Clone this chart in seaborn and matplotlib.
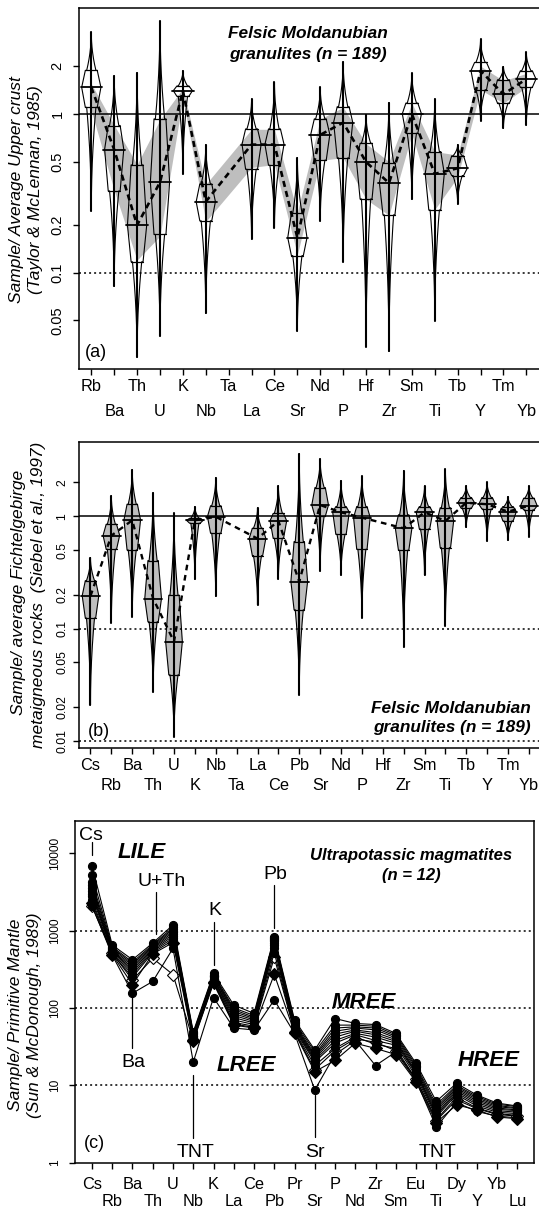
import numpy as np
import pandas as pd
import seaborn as sns
import matplotlib.pyplot as plt
from matplotlib.ticker import NullLocator

W, H, DPI = 539, 1213, 100
GREY = "#bebebe"

# (a) felsic Moldanubian granulites / average upper crust
a_ticks = ["Rb", "Ba", "Th", "U", "K", "Nb", "Ta", "La", "Ce", "Sr",
           "Nd", "P", "Hf", "Zr", "Sm", "Ti", "Tb", "Y", "Tm", "Yb"]
a_elem = ["Rb", "Ba", "Th", "U", "K", "Nb", "La", "Ce", "Sr",
          "Nd", "P", "Hf", "Zr", "Sm", "Ti", "Tb", "Y", "Tm", "Yb"]
a_max = [3.27, 1.74, 1.82, 3.84, 1.87, 0.64, 1.24, 1.58, 0.53, 1.47,
         2.13, 0.99, 1.18, 1.80, 1.24, 0.64, 2.95, 1.99, 2.44]
a_q3 = [1.88, 0.845, 0.477, 0.93, 1.50, 0.362, 0.804, 0.804, 0.237, 0.93,
        1.11, 0.653, 0.494, 1.17, 0.579, 0.544, 2.11, 1.64, 1.87]
a_med = [1.47, 0.596, 0.199, 0.371, 1.40, 0.280, 0.641, 0.641, 0.166, 0.738,
         0.882, 0.498, 0.367, 1.00, 0.419, 0.455, 1.87, 1.33, 1.66]
a_q1 = [1.10, 0.327, 0.117, 0.174, 1.29, 0.212, 0.448, 0.475, 0.128, 0.511,
        0.528, 0.291, 0.231, 0.755, 0.248, 0.409, 1.42, 1.17, 1.47]
a_min = [0.245, 0.082, 0.0293, 0.0399, 0.419, 0.0554, 0.163, 0.192, 0.0429, 0.212,
         0.117, 0.0342, 0.0319, 0.290, 0.0498, 0.271, 0.908, 0.812, 0.852]
a_band_lo = [1.05, 0.33, 0.12, 0.17, 1.25, 0.21, 0.46, 0.48, 0.13, 0.51,
             0.53, 0.29, 0.23, 0.75, 0.25, 0.40, 1.42, 1.17, 1.47]
a_band_hi = [1.55, 0.85, 0.48, 0.92, 1.45, 0.36, 0.80, 0.80, 0.24, 0.93,
             1.10, 0.65, 0.50, 1.17, 0.58, 0.55, 2.00, 1.62, 1.80]

# (b) same granulites / Fichtelgebirge metaigneous rocks
b_ticks = ["Cs", "Rb", "Ba", "Th", "U", "K", "Nb", "Ta", "La", "Ce", "Pb",
           "Sr", "Nd", "P", "Hf", "Zr", "Sm", "Ti", "Tb", "Y", "Tm", "Yb"]
b_elem = ["Cs", "Rb", "Ba", "Th", "U", "K", "Nb", "La", "Ce", "Pb",
          "Sr", "Nd", "P", "Zr", "Sm", "Ti", "Tb", "Y", "Tm", "Yb"]
b_max = [0.429, 1.52, 2.60, 1.62, 1.06, 1.22, 2.21, 1.19, 1.87, 3.61,
         3.24, 2.08, 2.27, 2.55, 1.86, 2.62, 1.87, 2.00, 1.50, 1.86]
b_q3 = [0.267, 0.849, 1.28, 0.403, 0.198, 0.96, 1.24, 0.782, 1.06, 0.595,
        1.80, 1.22, 1.22, 1.03, 1.22, 1.19, 1.47, 1.47, 1.22, 1.45]
b_med = [0.195, 0.673, 0.921, 0.185, 0.0766, 0.921, 0.99, 0.633, 0.909, 0.262,
         1.26, 1.085, 0.973, 0.782, 1.085, 0.909, 1.32, 1.28, 1.10, 1.24]
b_q1 = [0.124, 0.508, 0.501, 0.115, 0.0387, 0.866, 0.706, 0.447, 0.637, 0.147,
        1.00, 0.691, 0.508, 0.498, 0.771, 0.526, 1.18, 1.16, 0.909, 1.14]
b_min = [0.0209, 0.113, 0.128, 0.0273, 0.0109, 0.275, 0.194, 0.163, 0.277, 0.0257,
         0.326, 0.30, 0.125, 0.0687, 0.30, 0.106, 0.798, 0.603, 0.611, 0.659]

# (c) ultrapotassic magmatites / primitive mantle, 12 samples
c_ticks = ["Cs", "Rb", "Ba", "Th", "U", "Nb", "K", "La", "Ce", "Pb", "Pr",
           "Sr", "P", "Nd", "Zr", "Sm", "Eu", "Ti", "Dy", "Y", "Yb", "Lu"]
c_samples = [
    [2050, 510, 230, 438, 270, 38, 215, 62, 56, 450, 49, 16, 28, 40, 36, 28, 12, 3.5, 6.5, 5.0, 4.2, 4.0],
    [2300, 490, 200, 500, 700, 37, 208, 60, 55, 272, 48, 15, 21, 35, 30, 25, 11.1, 3.3, 5.6, 4.8, 3.9, 3.7],
    [6900, 650, 420, 690, 1180, 49, 280, 109, 85, 836, 70, 28.7, 73, 63, 61, 47, 19.2, 6.2, 10.6, 7.5, 5.9, 5.4],
    [5200, 620, 390, 660, 1100, 47, 270, 100, 80, 800, 66, 27, 60, 60, 58, 45, 18, 5.6, 10.0, 7.2, 5.7, 5.3],
    [4300, 600, 370, 640, 1050, 46, 262, 95, 76, 780, 63, 25, 55, 57, 55, 43, 17, 5.2, 9.6, 6.9, 5.5, 5.1],
    [3900, 580, 350, 620, 1000, 44, 255, 90, 73, 760, 60, 24, 50, 55, 52, 41, 16, 4.9, 9.2, 6.6, 5.3, 5.0],
    [3500, 560, 330, 600, 950, 43, 250, 85, 70, 730, 58, 23, 46, 52, 48, 39, 15, 4.6, 8.8, 6.3, 5.1, 4.8],
    [3200, 550, 310, 580, 900, 42, 240, 80, 67, 700, 56, 22, 42, 50, 45, 37, 14.5, 4.3, 8.4, 6.0, 4.9, 4.7],
    [3000, 540, 290, 560, 850, 41, 235, 75, 64, 650, 54, 21, 38, 47, 42, 35, 14, 4.1, 8.0, 5.7, 4.7, 4.5],
    [2800, 520, 270, 540, 800, 40, 228, 70, 61, 600, 52, 20, 35, 45, 38, 33, 13, 3.9, 7.6, 5.4, 4.5, 4.3],
    [2500, 500, 250, 520, 750, 39, 220, 65, 58, 520, 50, 18, 30, 42, 34, 30, 12, 3.6, 7.0, 5.1, 4.3, 4.1],
    [2100, 480, 155, 220, 590, 20, 136, 55, 52, 127, 47, 8.7, 25, 38, 18, 27, 11.5, 2.9, 6.0, 4.6, 4.0, 3.8],
]
c_markers = ["D", "D"] + ["o"] * 10
c_faces = ["white", "k"] + ["k"] * 10

sns.set_style("ticks")
plt.rcParams["font.family"] = ["Liberation Sans", "DejaVu Sans"]
plt.rcParams["axes.linewidth"] = 1.1
plt.rcParams["axes.edgecolor"] = "black"
plt.rcParams["text.color"] = "black"
plt.rcParams["xtick.color"] = "black"
plt.rcParams["ytick.color"] = "black"
plt.rcParams["xtick.labelcolor"] = "black"
plt.rcParams["ytick.labelcolor"] = "black"

fig = plt.figure(figsize=(W / DPI, H / DPI), dpi=DPI)


def rect(l, t, r, b):
    return [l / W, 1 - b / H, (r - l) / W, (b - t) / H]


def txt(x, y, s, size, ha="center", **kw):
    # y is the visual centre of capitals, in pixels from the top
    fig.text(x / W, 1 - (y + 0.36 * size / 0.72) / H, s, ha=ha, va="baseline",
             size=size, color="black", **kw)


def vtxt(x, y, s, size=12.5):
    fig.text(x / W, 1 - y / H, s, rotation=90, ha="center", va="center",
             size=size, style="italic", color="black")


def shape(lo, q1, md, q3, hi):
    l0, l1, l2, l3, l4 = np.log10([lo, q1, md, q3, hi])
    t = np.linspace(0, 1, 60)
    y = np.concatenate([l0 + (l1 - l0) * t, l1 + (l2 - l1) * t,
                        l2 + (l3 - l2) * t, l3 + (l4 - l3) * t])
    w = np.concatenate([0.48 * t ** 2.0, 0.62 + 0.38 * t,
                        1 - 0.38 * t, 0.48 * (1 - t) ** 2.0])
    return 10 ** y, w


def violin_fill(ax, x, stats, half, face, z):
    y, w = shape(*stats)
    ax.fill_betweenx(y, x - half * w, x + half * w, facecolor=face,
                     edgecolor="none", zorder=z)


def violin_lines(ax, x, stats, half, z):
    lo, q1, md, q3, hi = stats
    y, w = shape(*stats)
    ax.plot(x - half * w, y, color="k", lw=0.8, zorder=z)
    ax.plot(x + half * w, y, color="k", lw=0.8, zorder=z)
    ax.plot([x, x], [lo, hi], color="k", lw=1.5, zorder=z)
    for q in (q1, q3):
        ax.plot([x - 0.62 * half, x + 0.62 * half], [q, q], color="k", lw=0.9, zorder=z)
    ax.plot([x - 1.12 * half, x + 1.12 * half], [md, md], color="k", lw=1.3, zorder=z)


def style_axis(ax, ticks, yt, ylab, xlim, ylim, ysize, ypad, pad1, pad2):
    ax.set_yscale("log")
    pos = np.arange(len(ticks))
    ax.set_xticks(pos[::2], labels=ticks[::2])
    ax.set_xticks(pos[1::2], labels=ticks[1::2], minor=True)
    ax.set_yticks(yt, labels=ylab)
    ax.yaxis.set_minor_locator(NullLocator())
    ax.set_xlim(*xlim)
    ax.set_ylim(*ylim)
    ax.tick_params(axis="x", which="both", length=4.3, width=1.0,
                   labelsize=11.8, color="k", labelcolor="k")
    ax.tick_params(axis="x", which="major", pad=pad1)
    ax.tick_params(axis="x", which="minor", pad=pad2)
    ax.tick_params(axis="y", length=4.3, width=1.0, labelsize=ysize,
                   pad=ypad, labelrotation=90, color="k", labelcolor="k")
    for lab in ax.get_yticklabels():
        lab.set_va("center")
    ax.set_xlabel("")
    ax.set_ylabel("")
    for s in ax.spines.values():
        s.set_visible(True)
        s.set_color("k")


# ---------------- panel (a)
axa = fig.add_axes(rect(78.7, 8.3, 541, 369.3))
axa.set_yscale("log")
a_pos = [a_ticks.index(e) for e in a_elem]
for i, x in enumerate(a_pos):
    st = (a_min[i], a_q1[i], a_med[i], a_q3[i], a_max[i])
    violin_fill(axa, x, st, 0.42, "white", 2)
axa.fill_between(a_pos, a_band_lo, a_band_hi, color=GREY, lw=0, zorder=3)
for i, x in enumerate(a_pos):
    st = (a_min[i], a_q1[i], a_med[i], a_q3[i], a_max[i])
    violin_lines(axa, x, st, 0.42, 4)
sns.lineplot(x=a_pos, y=a_med, ax=axa, color="k", lw=1.9,
             linestyle=(0, (2.3, 1.6)), zorder=5)
axa.axhline(1, color="k", lw=1.1, zorder=4.5)
axa.axhline(0.1, color="k", lw=1.1, linestyle=(0, (1.3, 2.0)), zorder=4.5)
style_axis(axa, a_ticks, [0.05, 0.1, 0.2, 0.5, 1, 2],
           ["0.05", "0.1", "0.2", "0.5", "1", "2"],
           (-0.55, 19.64), (0.0246, 4.63), 10.5, 6.0, 2.9, 20.9)

txt(308, 32, "Felsic Moldanubian", 12.4, weight="bold", style="italic")
txt(308, 53, "granulites (n = 189)", 12.4, weight="bold", style="italic")
txt(96, 350.7, "(a)", 13)
vtxt(17, 190, "Sample/ Average Upper crust")
vtxt(36, 190, "(Taylor & McLennan, 1985)")

# ---------------- panel (b)
axb = fig.add_axes(rect(79.3, 442.3, 541, 747.7))
axb.set_yscale("log")
b_pos = [b_ticks.index(e) for e in b_elem]
for i, x in enumerate(b_pos):
    st = (b_min[i], b_q1[i], b_med[i], b_q3[i], b_max[i])
    violin_fill(axb, x, st, 0.40, GREY, 2)
    violin_lines(axb, x, st, 0.40, 3)
sns.lineplot(x=b_pos, y=b_med, ax=axb, color="k", lw=1.7,
             linestyle=(0, (2.4, 2.0)), zorder=5)
axb.axhline(1, color="k", lw=1.1, zorder=4.5)
axb.axhline(0.1, color="k", lw=1.1, linestyle=(0, (1.3, 2.0)), zorder=4.5)
axb.axhline(0.01, color="k", lw=1.1, linestyle=(0, (1.3, 2.0)), zorder=4.5)
style_axis(axb, b_ticks, [0.01, 0.02, 0.05, 0.1, 0.2, 0.5, 1, 2],
           ["0.01", "0.02", "0.05", "0.1", "0.2", "0.5", "1", "2"],
           (-0.536, 21.58), (0.00869, 4.56), 8.8, 3.6, 3.3, 17.3)

txt(531, 706.7, "Felsic Moldanubian", 12.4, ha="right", weight="bold", style="italic")
txt(531, 725.7, "granulites (n = 189)", 12.4, ha="right", weight="bold", style="italic")
txt(98.7, 730, "(b)", 13)
vtxt(19, 592, "Sample/ average Fichtelgebirge")
vtxt(38.5, 595, "metaigneous rocks  (Siebel et al., 1997)")

# ---------------- panel (c)
axc = fig.add_axes(rect(74.7, 820.7, 534.3, 1162.7))
axc.set_yscale("log")
rows = []
for k, vals in enumerate(c_samples):
    for j, v in enumerate(vals):
        rows.append({"sample": k, "pos": j, "value": v})
df = pd.DataFrame(rows)
for k in range(len(c_samples)):
    sns.lineplot(data=df[df["sample"] == k], x="pos", y="value", ax=axc,
                 color="k", lw=0.8, marker=c_markers[k], markersize=5.8,
                 markerfacecolor=c_faces[k], markeredgecolor="k",
                 markeredgewidth=0.8, sort=False, zorder=3)
for v in (10, 100, 1000):
    axc.axhline(v, color="k", lw=1.1, linestyle=(0, (1.3, 2.0)), zorder=1)
style_axis(axc, c_ticks, [1, 10, 100, 1000, 10000],
           ["1", "10", "100", "1000", "10000"],
           (-0.854, 21.84), (1, 26300), 8.6, 5.5, 5.8, 18.4)

# leader lines for the labelled anomalies
leaders = [(0, 14100, 9500), (3.16, 3190, 903), (6, 1300, 359), (9, 3890, 1070),
           (2, 140, 30.5), (5, 13.6, 2.07), (11, 7.47, 2.15)]
for x, y0, y1 in leaders:
    axc.plot([x, x], [y0, y1], color="k", lw=0.9, zorder=2)

txt(90.7, 833.3, "Cs", 14)
txt(161.7, 879, "U+Th", 14)
txt(215, 908, "K", 14)
txt(275, 871.7, "Pb", 14)
txt(133.3, 1060, "Ba", 14)
txt(196, 1150, "TNT", 14)
txt(315, 1150, "Sr", 14)
txt(437.3, 1150, "TNT", 14)
for s, x, y in [("LILE", 141.7, 850), ("LREE", 246.7, 1063.3),
                ("MREE", 363.3, 1000), ("HREE", 488.3, 1057.7)]:
    txt(x, y, s, 16, weight="bold", style="italic")
txt(411, 854, "Ultrapotassic magmatites", 12, weight="bold", style="italic")
txt(411, 874, "(n = 12)", 12, weight="bold", style="italic")
txt(94, 1141.7, "(c)", 13)
vtxt(15.5, 1015, "Sample/ Primitive Mantle")
vtxt(34.4, 1015, "(Sun & McDonough, 1989)")

fig.savefig("out.png", dpi=DPI)
